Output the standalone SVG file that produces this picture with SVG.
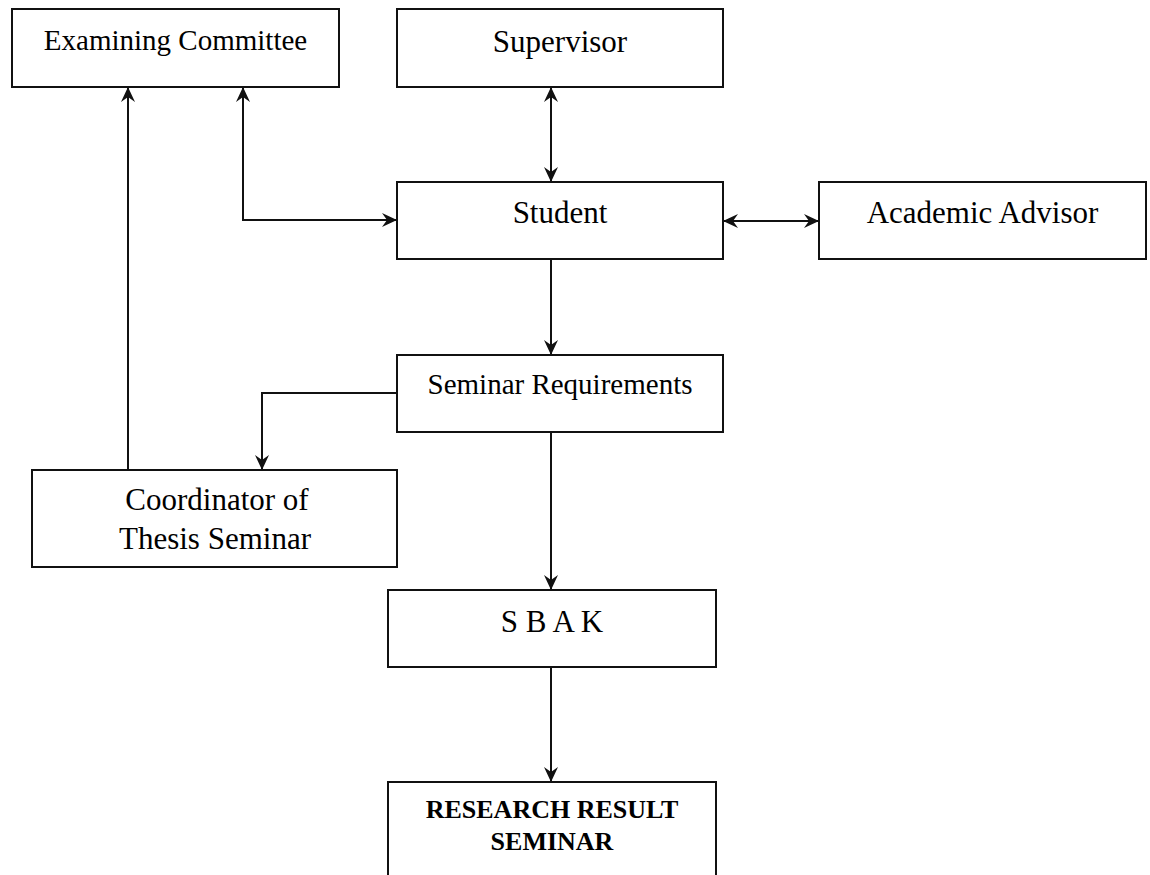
<svg xmlns="http://www.w3.org/2000/svg" width="1150" height="875" viewBox="0 0 1150 875">
  <style>
    .box { fill: #fff; stroke: #111; stroke-width: 2; }
    .lbl { font-family: "Liberation Serif", "Times New Roman", serif; fill: #000; text-anchor: middle; }
    .big { font-size: 31px; }
    .mid { font-size: 29px; }
    .bold { font-size: 26px; font-weight: bold; }
    .wire { fill: none; stroke: #111; stroke-width: 2; }
  </style>
  <defs>
    <marker id="head" viewBox="0 0 16 16" refX="15" refY="8" markerWidth="16" markerHeight="16" markerUnits="userSpaceOnUse" orient="auto-start-reverse">
      <path d="M0,1 L15,8 L0,15 L5,8 z" fill="#111"/>
    </marker>
  </defs>
  <rect width="1150" height="875" fill="#fff"/>

  <g id="connectors">
    <!-- Supervisor <-> Student -->
    <line class="wire" x1="551" y1="87" x2="551" y2="182" marker-start="url(#head)" marker-end="url(#head)"/>
    <!-- Examining Committee <-> Student -->
    <polyline class="wire" points="243,87 243,220 397,220" marker-start="url(#head)" marker-end="url(#head)"/>
    <!-- Student <-> Academic Advisor -->
    <line class="wire" x1="723" y1="221" x2="819" y2="221" marker-start="url(#head)" marker-end="url(#head)"/>
    <!-- Student -> Seminar Requirements -->
    <line class="wire" x1="551" y1="259" x2="551" y2="355" marker-end="url(#head)"/>
    <!-- Seminar Requirements -> Coordinator -->
    <polyline class="wire" points="397,393 262,393 262,470" marker-end="url(#head)"/>
    <!-- Coordinator -> Examining Committee -->
    <line class="wire" x1="128" y1="470" x2="128" y2="87" marker-end="url(#head)"/>
    <!-- Seminar Requirements -> SBAK -->
    <line class="wire" x1="551" y1="432" x2="551" y2="590" marker-end="url(#head)"/>
    <!-- SBAK -> Research Result Seminar -->
    <line class="wire" x1="551" y1="667" x2="551" y2="782" marker-end="url(#head)"/>
  </g>

  <g id="examining-committee">
    <rect class="box" x="12" y="9" width="327" height="78"/>
    <text class="lbl mid" x="175.5" y="50">Examining Committee</text>
  </g>

  <g id="supervisor">
    <rect class="box" x="397" y="9" width="326" height="78"/>
    <text class="lbl big" x="560" y="52">Supervisor</text>
  </g>

  <g id="student">
    <rect class="box" x="397" y="182" width="326" height="77"/>
    <text class="lbl big" x="560" y="223">Student</text>
  </g>

  <g id="academic-advisor">
    <rect class="box" x="819" y="182" width="327" height="77"/>
    <text class="lbl big" x="982.5" y="223">Academic Advisor</text>
  </g>

  <g id="seminar-requirements">
    <rect class="box" x="397" y="355" width="326" height="77"/>
    <text class="lbl mid" x="560" y="394">Seminar Requirements</text>
  </g>

  <g id="coordinator">
    <rect class="box" x="32" y="470" width="365" height="97"/>
    <text class="lbl big" x="217" y="510">Coordinator of</text>
    <text class="lbl big" x="215" y="549">Thesis Seminar</text>
  </g>

  <g id="sbak">
    <rect class="box" x="388" y="590" width="328" height="77"/>
    <text class="lbl big" x="552" y="632">S B A K</text>
  </g>

  <g id="research-result-seminar">
    <rect class="box" x="388" y="782" width="328" height="110"/>
    <text class="lbl bold" x="552" y="818">RESEARCH RESULT</text>
    <text class="lbl bold" x="552" y="850">SEMINAR</text>
  </g>
</svg>
